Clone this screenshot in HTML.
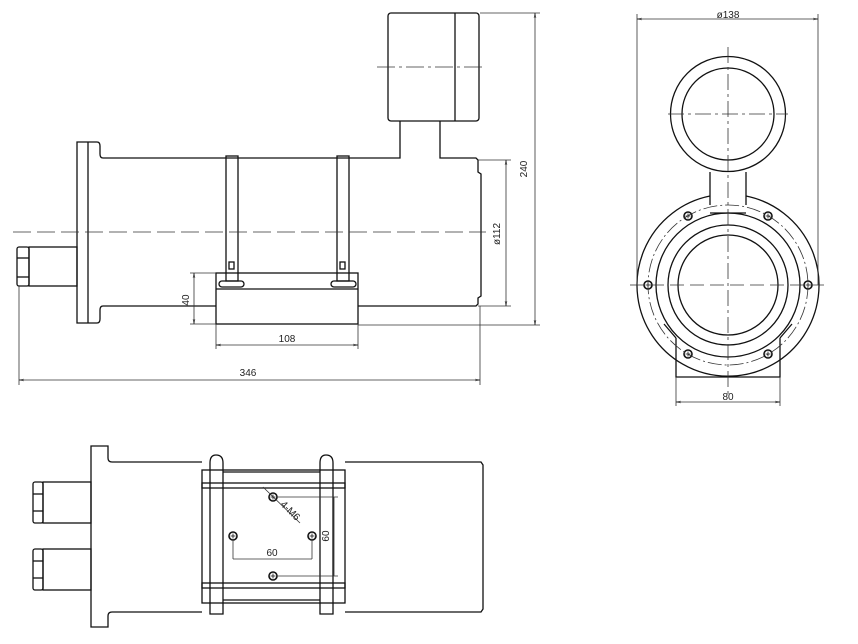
<!DOCTYPE html>
<html><head><meta charset="utf-8"><style>body{margin:0;background:#fff}svg{display:block}text{font-family:"Liberation Sans",sans-serif;font-size:10px;fill:#222}</style></head>
<body>
<svg width="858" height="644" viewBox="0 0 858 644" xmlns="http://www.w3.org/2000/svg">
<defs><marker id="a" viewBox="0 0 10 10" refX="10" refY="5" markerWidth="6" markerHeight="6" orient="auto-start-reverse"><path d="M0,3L10,5L0,7" fill="none" stroke="#222"/></marker>
<g id="h"><circle r="4" fill="none" stroke="#111" stroke-width="1.6"/><path d="M-2.5,0H2.5M0,-2.5V2.5" stroke="#111" stroke-width="0.8"/></g></defs>
<g fill="none" stroke="#111" stroke-width="1.3">
<rect x="388" y="13" width="91" height="108" rx="3"/>
<line x1="455" y1="13" x2="455" y2="121"/>
<path d="M400,121V158H103Q100,158 100,154V146Q100,142 97,142H77V323H97Q100,323 100,319V310Q100,306 103,306H216"/>
<line x1="88" y1="142" x2="88" y2="323"/>
<path d="M440,121V158H476L478,160V172L481,174V296L478,298V304L476,306H358"/>
<rect x="29" y="247" width="48" height="39"/>
<rect x="17" y="247" width="12" height="39" rx="2"/>
<line x1="17" y1="258" x2="29" y2="258"/><line x1="17" y1="277" x2="29" y2="277"/>
<rect x="226" y="156" width="12" height="125"/>
<rect x="337" y="156" width="12" height="125"/>
<rect x="229" y="262" width="5" height="7"/><rect x="340" y="262" width="5" height="7"/>
<rect x="216" y="273" width="142" height="51"/>
<line x1="216" y1="289" x2="358" y2="289"/>
<rect x="219" y="281" width="25" height="6" rx="3"/><rect x="331" y="281" width="25" height="6" rx="3"/>
</g>
<g fill="none" stroke="#333" stroke-width="0.8">
<line x1="377" y1="67" x2="484" y2="67" stroke-dasharray="18,4,3,4"/>
<line x1="13" y1="232" x2="486" y2="232" stroke-dasharray="18,6"/>
<line x1="480" y1="13" x2="540" y2="13"/><line x1="358" y1="325" x2="540" y2="325"/>
<line x1="535" y1="13" x2="535" y2="325" marker-start="url(#a)" marker-end="url(#a)"/>
<line x1="478" y1="160" x2="511" y2="160"/><line x1="478" y1="306" x2="511" y2="306"/>
<line x1="506" y1="160" x2="506" y2="306" marker-start="url(#a)" marker-end="url(#a)"/>
<line x1="190" y1="273" x2="216" y2="273"/><line x1="190" y1="324" x2="216" y2="324"/>
<line x1="194" y1="273" x2="194" y2="324" marker-start="url(#a)" marker-end="url(#a)"/>
<line x1="216" y1="324" x2="216" y2="349"/><line x1="358" y1="324" x2="358" y2="349"/>
<line x1="216" y1="345" x2="358" y2="345" marker-start="url(#a)" marker-end="url(#a)"/>
<line x1="19" y1="286" x2="19" y2="385"/><line x1="480" y1="306" x2="480" y2="385"/>
<line x1="19" y1="380" x2="480" y2="380" marker-start="url(#a)" marker-end="url(#a)"/>
</g>
<text x="527" y="169" transform="rotate(-90 527 169)" text-anchor="middle">240</text>
<text x="500" y="234" transform="rotate(-90 500 234)" text-anchor="middle">ø112</text>
<text x="189" y="300" transform="rotate(-90 189 300)" text-anchor="middle">40</text>
<text x="287" y="342" text-anchor="middle">108</text>
<text x="248" y="376" text-anchor="middle">346</text>
<g fill="none" stroke="#111" stroke-width="1.3">
<circle cx="728" cy="114" r="57.5"/><circle cx="728" cy="114" r="46"/>
<path d="M710,172V205M746,172V205"/>
<line x1="710" y1="213" x2="746" y2="213"/>
<path d="M710,196A91,91 0 1 0 746,196"/>
<circle cx="728" cy="285" r="72"/><circle cx="728" cy="285" r="60"/><circle cx="728" cy="285" r="50"/>
<path d="M676,338V377H780V338M676,338L664,324M780,338L792,324"/>
</g>
<use href="#h" x="688" y="216"/><use href="#h" x="768" y="216"/><use href="#h" x="648" y="285"/><use href="#h" x="808" y="285"/><use href="#h" x="688" y="354"/><use href="#h" x="768" y="354"/>
<g fill="none" stroke="#333" stroke-width="0.8">
<circle cx="728" cy="285" r="80" stroke-dasharray="14,3,2,3"/>
<line x1="728" y1="47" x2="728" y2="395" stroke-dasharray="16,4,3,4"/>
<line x1="668" y1="114" x2="788" y2="114" stroke-dasharray="16,4,3,4"/>
<line x1="630" y1="285" x2="827" y2="285" stroke-dasharray="14,6"/>
<line x1="637" y1="14" x2="637" y2="285"/><line x1="818" y1="14" x2="818" y2="285"/>
<line x1="637" y1="19" x2="818" y2="19" marker-start="url(#a)" marker-end="url(#a)"/>
<line x1="676" y1="377" x2="676" y2="406"/><line x1="780" y1="377" x2="780" y2="406"/>
<line x1="676" y1="402" x2="780" y2="402" marker-start="url(#a)" marker-end="url(#a)"/>
</g>
<text x="728" y="18" text-anchor="middle">ø138</text>
<text x="728" y="400" text-anchor="middle">80</text>
<g fill="none" stroke="#111" stroke-width="1.3">
<path d="M202,462H112Q108,462 108,458V446H91V627H108V616Q108,612 112,612H202"/>
<path d="M345,462H481L483,465V609L481,612H345"/>
<rect x="43" y="482" width="48" height="41"/><rect x="33" y="482" width="10" height="41" rx="2"/>
<line x1="33" y1="494" x2="43" y2="494"/><line x1="33" y1="511" x2="43" y2="511"/>
<rect x="43" y="549" width="48" height="41"/><rect x="33" y="549" width="10" height="41" rx="2"/>
<line x1="33" y1="561" x2="43" y2="561"/><line x1="33" y1="578" x2="43" y2="578"/>
<rect x="202" y="470" width="143" height="133"/>
<rect x="202" y="483" width="143" height="5"/><rect x="202" y="583" width="143" height="5"/>
<line x1="223" y1="472" x2="320" y2="472"/><line x1="223" y1="600" x2="320" y2="600"/>
<path d="M210,614V463Q210,455 216,455Q223,455 223,463V614Z"/>
<path d="M320,614V463Q320,455 326,455Q333,455 333,463V614Z"/>
</g>
<use href="#h" x="273" y="497"/><use href="#h" x="233" y="536"/><use href="#h" x="312" y="536"/><use href="#h" x="273" y="576"/>
<g fill="none" stroke="#333" stroke-width="0.8">
<line x1="277" y1="497" x2="338" y2="497"/><line x1="277" y1="576" x2="338" y2="576"/>
<line x1="334" y1="497" x2="334" y2="576"/>
<line x1="233" y1="540" x2="233" y2="559"/><line x1="312" y1="540" x2="312" y2="559"/>
<line x1="233" y1="559" x2="312" y2="559"/>
<line x1="263" y1="487" x2="300" y2="523"/>
</g>
<text x="329" y="536" transform="rotate(-90 329 536)" text-anchor="middle">60</text>
<text x="272" y="556" text-anchor="middle">60</text>
<text x="288" y="513" transform="rotate(45 288 513)" text-anchor="middle">4-M6</text>
</svg>
</body></html>
